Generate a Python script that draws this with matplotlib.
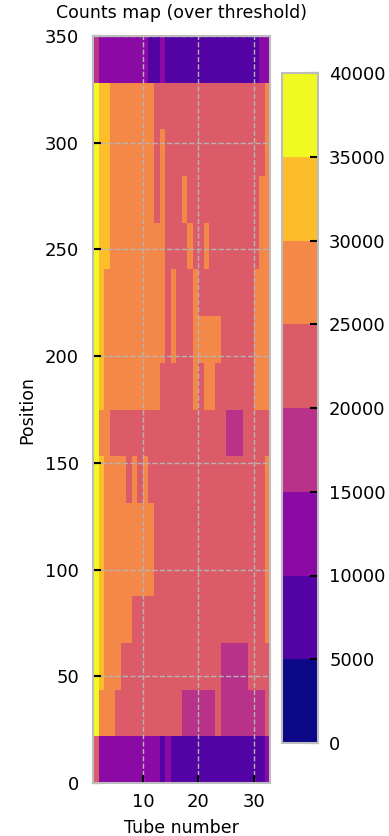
import numpy as np
import matplotlib.pyplot as plt
from matplotlib.colors import BoundaryNorm

# tube numbers are cell edges 1..33, positions 0..350 in 16 slices
tube_edges = np.arange(1, 34)
pos_edges = np.linspace(0, 350, 17)
levels = np.arange(0, 40001, 5000)

# counts per level (binned colour)
level_counts = {"I": 7500, "P": 12500, "M": 17500, "R": 22500,
                "O": 27500, "G": 32500, "Y": 37500}

# one row per position slice, top (350) to bottom (0)
# groups: tubes 1-9 | 10-19 | 20-29 | 30-32
rows_top_down = [
    "MPPPPPPPP PIIPIIIIII IIIIIIIIII IPP",
    "YGGOOOOOO OORRRRRRRR RRRRRRRRRR RRO",
    "YGGOOOOOO OORORRRRRR RRRRRRRRRR RRO",
    "YGGOOOOOO OORORRRORR RRRRRRRRRR ROO",
    "YGGOOOOOO OOOORRRROR RORRRRRRRR ROO",
    "YGOOOOOOO OOOORORRRO RRRRRRRRRR OOO",
    "YGOOOOOOO OOOORORRRO OOOORRRRRR OOO",
    "YGOOOOOOO OOORRRRRRO ROORRRRRRR OOO",
    "YOORRRRRR RRRRRRRRRR RRRRRMMMRR RRR",
    "YGOOOOROR ORRRRRRRRR RRRRRRRRRR RRO",
    "YGOOOOOOO OORRRRRRRR RRRRRRRRRR RRO",
    "YGOOOOOOO OORRRRRRRR RRRRRRRRRR RRO",
    "YGOOOOORR RRRRRRRRRR RRRRRRRRRR RRO",
    "YGOOORRRR RRRRRRRRRR RRRRMMMMMR RRR",
    "YOOORRRRR RRRRRRRMMM MMMRMMMMMM MMR",
    "RPPPPPPPP PPPIPIIIII IIIIIIIIII IIP",
]

counts = np.array([[level_counts[c] for c in row.replace(" ", "")]
                   for row in rows_top_down[::-1]])

cmap = plt.get_cmap("plasma", len(levels) - 1)
norm = BoundaryNorm(levels, cmap.N)

fig = plt.figure(figsize=(3.89, 8.36), dpi=100)
ax = fig.add_axes([93/389, 53/836, 177.4/389, 747/836])
cax = fig.add_axes([282/389, 93/836, 36/389, 670/836])

mesh = ax.pcolormesh(tube_edges, pos_edges, counts, cmap=cmap, norm=norm)
ax.set_xlim(1, 33)
ax.set_ylim(0, 350)
ax.set_xticks([10, 20, 30])
ax.set_yticks(np.arange(0, 351, 50))
ax.grid(True, color="#b4b4b4", linestyle="--", linewidth=1)
ax.tick_params(direction="in", length=6, width=1.5, color="black", labelsize=13)
ax.tick_params(axis="y", pad=10)
ax.tick_params(axis="x", pad=7)
for s in ax.spines.values():
    s.set_color("#bdbdbd")
    s.set_linewidth(1.5)
ax.set_title("Counts map (over threshold)", fontsize=12.5, pad=13)
ax.set_xlabel("Tube number", fontsize=12.5, labelpad=6)
ax.set_ylabel("Position", fontsize=12.5, labelpad=6)

cb = fig.colorbar(mesh, cax=cax, ticks=levels)
cb.ax.tick_params(direction="in", length=6, width=1.5, color="black",
                  labelsize=13, pad=8)
cb.outline.set_edgecolor("#bdbdbd")
cb.outline.set_linewidth(1.5)

fig.savefig("out.png", dpi=100)
